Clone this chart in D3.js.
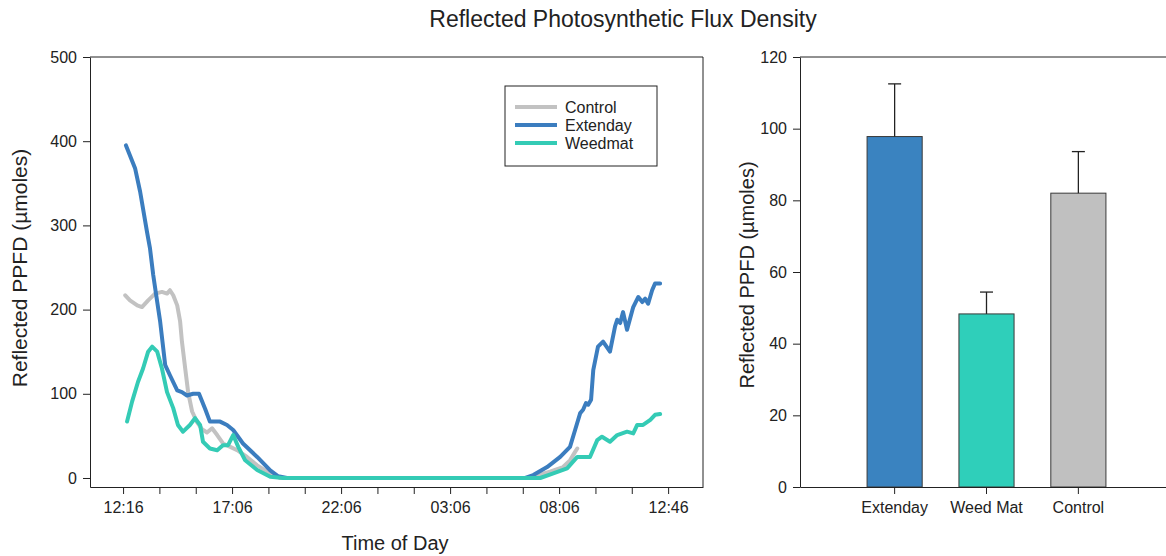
<!DOCTYPE html>
<html>
<head>
<meta charset="utf-8">
<script src="https://cdn.jsdelivr.net/npm/d3@7"></script>
<style>
  body { margin: 0; background: #fff; }
  svg text { font-family: Arial, "Liberation Sans", sans-serif; fill: #222; }
</style>
</head>
<body>
<div id="chart"></div>
<script>
// x positions are in tick steps (0 = 12:16, 15 = 12:46 next day)
var timeTicks = d3.range(16);
var timeLabels = ["12:16", "", "", "17:06", "", "", "22:06", "", "", "03:06", "", "", "08:06", "", "", "12:46"];

var controlX = [0.06, 0.19, 0.39, 0.52, 0.69, 0.88, 1.07, 1.21, 1.29, 1.38, 1.49, 1.57, 1.62, 1.71, 1.79, 1.90, 2.04, 2.17, 2.31, 2.45, 2.59, 2.75, 2.95, 3.14, 3.41, 3.69, 4.05, 4.32, 11.15, 11.75, 12.11, 12.30, 12.44, 12.50];
var controlY = [217, 211, 205, 203, 211, 219, 221, 219, 223, 217, 205, 186, 162, 130, 102, 79, 66, 58, 54, 59, 51, 41, 37, 33, 25, 15, 5.5, 0, 0, 7.5, 13, 21, 31, 35];

var extendayX = [0.08, 0.33, 0.47, 0.66, 0.74, 0.83, 0.94, 1.02, 1.16, 1.29, 1.49, 1.62, 1.76, 1.93, 2.09, 2.26, 2.39, 2.67, 2.86, 3.03, 3.30, 3.69, 4.05, 4.27, 4.51, 11.07, 11.29, 11.67, 12.03, 12.30, 12.44, 12.58, 12.66, 12.74, 12.80, 12.88, 12.94, 13.07, 13.21, 13.40, 13.54, 13.60, 13.68, 13.76, 13.87, 14.04, 14.18, 14.29, 14.37, 14.45, 14.56, 14.64, 14.78];
var extendayY = [395, 368, 340, 292, 273, 241, 209, 186, 134, 122, 104, 102, 98, 100, 100, 82, 67, 67, 63, 57, 41, 25, 9, 2, 0, 0, 3.5, 13, 25, 37, 57, 77, 81, 89, 87, 93, 128, 156, 162, 150, 180, 188, 184, 197, 176, 203, 215, 209, 213, 207, 223, 231, 231];

var weedmatX = [0.11, 0.25, 0.41, 0.55, 0.69, 0.80, 0.94, 1.07, 1.21, 1.38, 1.51, 1.65, 1.84, 1.98, 2.12, 2.20, 2.39, 2.59, 2.75, 2.89, 3.03, 3.17, 3.36, 3.69, 4.05, 4.40, 11.48, 11.84, 12.22, 12.50, 12.85, 13.05, 13.18, 13.40, 13.60, 13.87, 14.04, 14.15, 14.31, 14.51, 14.64, 14.78];
var weedmatY = [67, 91, 114, 130, 150, 156, 150, 130, 102, 83, 63, 55, 63, 71, 63, 43, 35, 33, 39, 39, 51, 37, 21, 9.5, 1.5, 0, 0, 5.5, 11.5, 25, 25, 45, 49, 43, 51, 55, 53, 63, 63, 69, 75, 76];

var lineNames = ["Control", "Extenday", "Weedmat"];
var lineColors = ["#c2c2c2", "#3b7dbf", "#34cbb5"];

var barNames = ["Extenday", "Weed Mat", "Control"];
var barMeans = [97.8, 48.3, 82.0];
var barErrors = [14.7, 6.1, 11.6];
var barColors = ["#3a83c0", "#2fcfba", "#c0c0c0"];

var width = 1166, height = 556;
var svg = d3.select("#chart").append("svg")
    .attr("width", width)
    .attr("height", height);

svg.append("text")
    .attr("x", 623).attr("y", 27)
    .attr("text-anchor", "middle")
    .style("font-size", "23px")
    .text("Reflected Photosynthetic Flux Density");

// ---------- left: time series ----------
var L = {left: 90, top: 57, w: 613, h: 430};
var gl = svg.append("g").attr("transform", "translate(" + L.left + "," + L.top + ")");

var x = d3.scaleLinear().domain([-0.91, 15.96]).range([0, L.w]);
var y = d3.scaleLinear().domain([-10.7, 500]).range([L.h, 0]);

gl.append("g")
    .attr("transform", "translate(0," + L.h + ")")
    .call(d3.axisBottom(x).tickValues(timeTicks)
        .tickFormat(function(d, i) { return timeLabels[i]; })
        .tickSize(7).tickSizeOuter(0).tickPadding(8))
    .call(styleAxis);

gl.append("g")
    .call(d3.axisLeft(y).tickValues([0, 100, 200, 300, 400, 500])
        .tickSize(7).tickSizeOuter(0).tickPadding(6))
    .call(styleAxis);

// frame top / right
gl.append("path")
    .attr("d", "M0,0H" + L.w + "V" + L.h)
    .attr("fill", "none").attr("stroke", "#222");

var series = [
    {xs: controlX, ys: controlY},
    {xs: extendayX, ys: extendayY},
    {xs: weedmatX, ys: weedmatY}
];
var line = d3.line()
    .x(function(d) { return x(d[0]); })
    .y(function(d) { return y(d[1]); });

series.forEach(function(s, k) {
    gl.append("path")
        .datum(d3.zip(s.xs, s.ys))
        .attr("d", line)
        .attr("fill", "none")
        .attr("stroke", lineColors[k])
        .attr("stroke-width", 4)
        .attr("stroke-linejoin", "round")
        .attr("stroke-linecap", "round");
});

// legend
var lg = svg.append("g").attr("transform", "translate(505,86)");
lg.append("rect").attr("width", 152).attr("height", 80)
    .attr("fill", "#fff").attr("stroke", "#222");
lineNames.forEach(function(n, i) {
    var yy = 21 + i * 18;
    lg.append("line").attr("x1", 10).attr("x2", 52).attr("y1", yy).attr("y2", yy)
        .attr("stroke", lineColors[i]).attr("stroke-width", 4);
    lg.append("text").attr("x", 60).attr("y", yy + 6)
        .style("font-size", "16px").text(n);
});

svg.append("text")
    .attr("x", 395).attr("y", 550)
    .attr("text-anchor", "middle")
    .style("font-size", "20px")
    .text("Time of Day");

svg.append("text")
    .attr("transform", "translate(27,268) rotate(-90)")
    .attr("text-anchor", "middle")
    .style("font-size", "21px")
    .text("Reflected PPFD (µmoles)");

// ---------- right: bar chart ----------
var R = {left: 800, top: 57, w: 373, h: 430};
var gr = svg.append("g").attr("transform", "translate(" + R.left + "," + R.top + ")");

var xb = d3.scaleBand().domain(barNames).range([0, R.w])
    .paddingInner(0.4).paddingOuter(0.73);
var yb = d3.scaleLinear().domain([0, 120]).range([R.h, 0]);

gr.selectAll(".bar").data(barNames).enter().append("rect")
    .attr("class", "bar")
    .attr("x", function(d) { return xb(d); })
    .attr("y", function(d, i) { return yb(barMeans[i]); })
    .attr("width", xb.bandwidth())
    .attr("height", function(d, i) { return R.h - yb(barMeans[i]); })
    .attr("fill", function(d, i) { return barColors[i]; })
    .attr("stroke", "#3a3a3a").attr("stroke-width", 1);

barNames.forEach(function(d, i) {
    var cx = xb(d) + xb.bandwidth() / 2;
    gr.append("line")
        .attr("x1", cx).attr("x2", cx)
        .attr("y1", yb(barMeans[i])).attr("y2", yb(barMeans[i] + barErrors[i]))
        .attr("stroke", "#222").attr("stroke-width", 1.3);
    gr.append("line")
        .attr("x1", cx - 6.5).attr("x2", cx + 6.5)
        .attr("y1", yb(barMeans[i] + barErrors[i])).attr("y2", yb(barMeans[i] + barErrors[i]))
        .attr("stroke", "#222").attr("stroke-width", 1.3);
});

gr.append("g")
    .attr("transform", "translate(0," + R.h + ")")
    .call(d3.axisBottom(xb).tickSize(7).tickSizeOuter(0).tickPadding(8))
    .call(styleAxis);

gr.append("g")
    .call(d3.axisLeft(yb).tickValues([0, 20, 40, 60, 80, 100, 120])
        .tickSize(7).tickSizeOuter(0).tickPadding(6))
    .call(styleAxis);

gr.append("line").attr("x1", 0).attr("x2", R.w).attr("y1", 0).attr("y2", 0)
    .attr("stroke", "#222");

svg.append("text")
    .attr("transform", "translate(754,275) rotate(-90)")
    .attr("text-anchor", "middle")
    .style("font-size", "20px")
    .text("Reflected PPFD (µmoles)");

function styleAxis(g) {
    g.selectAll(".domain").attr("stroke", "#222");
    g.selectAll(".tick line").attr("stroke", "#222");
    g.selectAll(".tick text").style("font-size", "16px").attr("fill", "#222");
}
</script>
</body>
</html>
